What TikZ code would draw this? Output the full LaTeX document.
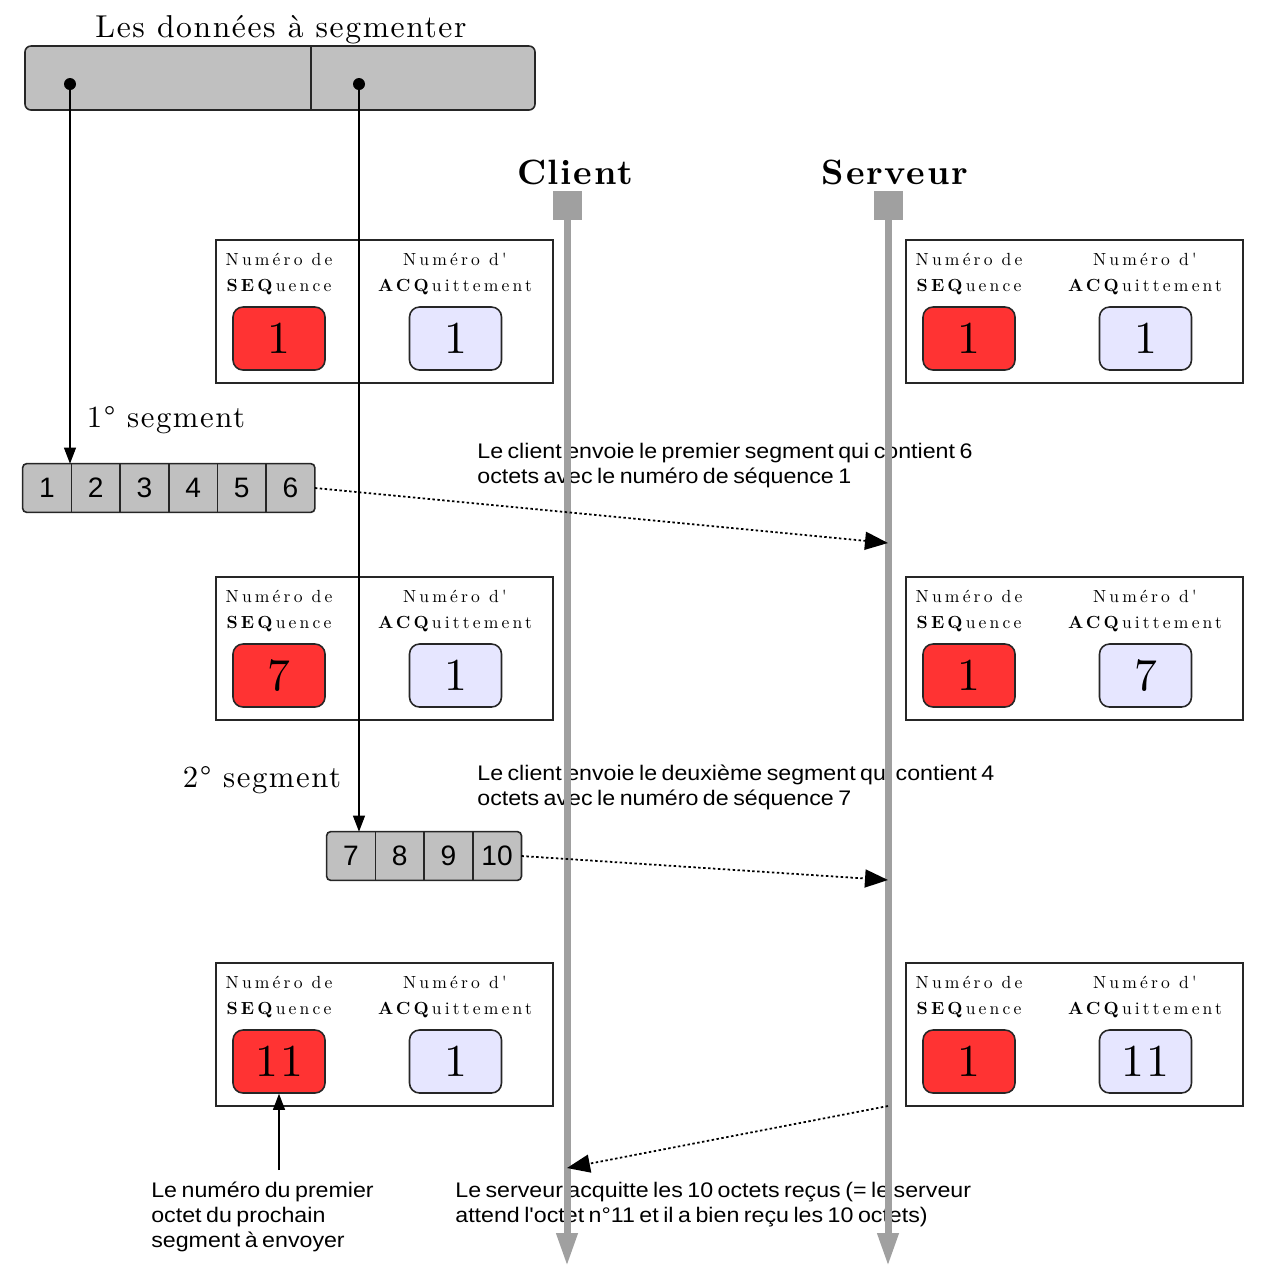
\documentclass[tikz,border=0pt]{standalone}
\usepackage{fontspec}
\usepackage{tikz}
\usetikzlibrary{arrows.meta,positioning,backgrounds}

\newfontfamily\titlefont[LetterSpace=5,BoldFont=lmroman10-bold.otf]{lmroman10-regular.otf}
\newfontfamily\boxfont[LetterSpace=18,BoldFont=lmroman10-bold.otf]{lmroman10-regular.otf}
\newfontfamily\notefont[FakeStretch=1.1,WordSpace=0.7]{Liberation Sans}
\newfontfamily\cellfont{Liberation Sans}

\definecolor{datagray}{HTML}{C0C0C0}
\definecolor{linegray}{HTML}{A0A0A0}
\definecolor{seqred}{HTML}{FF3333}
\definecolor{acklav}{HTML}{E6E6FF}

\tikzset{
  octet/.style={minimum width=9.6mm, minimum height=9.6mm, inner sep=0pt,
    font=\cellfont\fontsize{16}{18}\selectfont},
  statebox/.style={draw=black!85, line width=0.9pt, minimum width=67.4mm, minimum height=28.6mm, inner sep=0pt},
  boxtext/.style={align=center, inner sep=0pt, font=\boxfont\fontsize{10}{14.8}\selectfont},
  seqbox/.style={draw=black!85, line width=0.9pt, rounded corners=2mm, fill=seqred,
    minimum width=18.4mm, minimum height=12.6mm, inner sep=0pt, font=\titlefont\fontsize{26}{28}\selectfont},
  ackbox/.style={seqbox, fill=acklav},
  note/.style={align=left, inner sep=0pt, font=\notefont\fontsize{12}{14.2}\selectfont},
  dot/.style={circle, fill=black, inner sep=0pt, minimum size=2.4mm},
  lifehead/.style={fill=linegray, inner sep=0pt, minimum size=5.8mm},
  lifeline/.style={draw=linegray, line width=1.4mm, -{Triangle[length=6.6mm,width=4mm]}},
  msg/.style={line width=1pt, dash pattern=on 1.4pt off 1.4pt, -{Triangle[length=4.6mm,width=3.6mm]}},
  feed/.style={semithick, -{Triangle[length=3.2mm,width=2.4mm]}}
}

\begin{document}
\begin{tikzpicture}[x=0.2mm, y=-0.2mm]
\useasboundingbox (0,0) rectangle (1270,1284);
%draw the data to be cut
\node[font=\titlefont\fontsize{18}{20}\selectfont] (title) at (281,30) {Les données à segmenter};
\node[draw=black!85, line width=0.9pt, fill=datagray, rounded corners=1.2mm, minimum width=102mm,
  minimum height=12.8mm, inner sep=0pt] (data) at (280,78) {};
\coordinate (cut) at (311,0);
\draw[black!85, line width=0.9pt] (cut |- data.north) -- (cut |- data.south);
\node[dot] (d1) at (70,84) {};
\node[dot] (d2) at (359,84) {};
%draw client and server
\node[font=\titlefont\bfseries\fontsize{20}{24}\selectfont] (client) at (575,172) {Client};
\node[font=\titlefont\bfseries\fontsize{20}{24}\selectfont] (serveur) at (895,172) {Serveur};
\node[lifehead] (chead) at (567,205) {};
\node[lifehead] (shead) at (888,205) {};
\coordinate (cend) at (567,1266);
\coordinate (send) at (888,1266);
%draw the state boxes
\foreach \name/\x/\y/\seq/\ack in {cli1/215/239/1/1, srv1/905/239/1/1, cli2/215/576/7/1,
    srv2/905/576/1/7, cli3/215/962/11/1, srv3/905/962/1/11}{
  \node[statebox, anchor=north west] (\name) at (\x,\y) {};
  \node[boxtext] (\name l) at (\x+64,\y+35) {Numéro de\\\textbf{SEQ}uence};
  \node[boxtext] (\name r) at (\x+240,\y+35) {Numéro d'\\\textbf{ACQ}uittement};
  \node[seqbox] (\name seq) at (\x+64,\y+99.5) {\seq};
  \node[ackbox] (\name ack) at (\x+240.5,\y+99.5) {\ack};
}
% first segment : octets 1 to 6
\node[font=\titlefont\fontsize{17.5}{20}\selectfont] (seg1) at (166,420) {1\textdegree{} segment};
\node[octet] (o1) at (47,488) {1};
\foreach \i [remember=\i as \j (initially 1)] in {2,...,6}{
  \node[octet, right=0pt of o\j] (o\i) {\i};
}
% second segment : octets 7 to 10
\node[font=\titlefont\fontsize{17.5}{20}\selectfont] (seg2) at (262,780) {2\textdegree{} segment};
\node[octet] (o7) at (351,856) {7};
\foreach \i [remember=\i as \j (initially 7)] in {8,...,10}{
  \node[octet, right=0pt of o\j] (o\i) {\i};
}
\begin{scope}[on background layer]
  \draw[black!85, line width=0.9pt, fill=datagray, rounded corners=0.8mm] (o1.north west) rectangle (o6.south east);
  \draw[black!85, line width=0.9pt, fill=datagray, rounded corners=0.8mm] (o7.north west) rectangle (o10.south east);
\end{scope}
\foreach \i in {1,...,5,7,8,9}{
  \draw[black!85, line width=0.9pt] (o\i.north east) -- (o\i.south east);
}
% explanations
\node[note, anchor=west] (n1) at (477,466) {Le client envoie le premier segment qui contient 6\\octets avec le numéro de séquence 1};
\node[note, anchor=west] (n2) at (477,787.5) {Le client envoie le deuxième segment qui contient 4\\octets avec le numéro de séquence 7};
\node[note, anchor=west] (n3) at (151,1217) {Le numéro du premier\\octet du prochain\\segment à envoyer};
\node[note, anchor=west] (n4) at (455,1204.5) {Le serveur acquitte les 10 octets reçus (= le serveur\\attend l'octet n°11 et il a bien reçu les 10 octets)};
% cutting arrows
\draw[feed] (d1.center) -- (d1 |- o1.north);
\draw[feed] (d2.center) -- (d2 |- o7.north);
\draw[feed] (cli3seq.south |- 0,1170) -- (cli3seq.south);
% time lines
\draw[lifeline] (chead.south) -- (cend);
\draw[lifeline] (shead.south) -- (send);
% messages
\coordinate (r1) at (888,543);
\coordinate (r2) at (888,880);
\coordinate (a1) at (888,1106);
\coordinate (a2) at (567,1168);
\draw[msg] (o6.east) -- (r1);
\draw[msg] (o10.east) -- (r2);
\draw[msg] (a1) -- (a2);
\end{tikzpicture}
\end{document}
